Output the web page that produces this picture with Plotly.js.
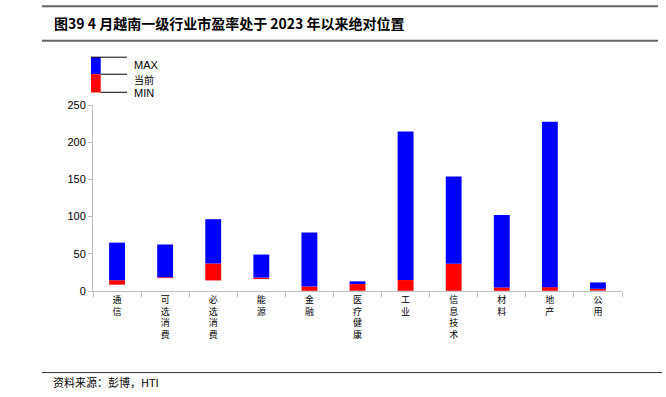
<!DOCTYPE html>
<html><head><meta charset="utf-8">
<script src="https://cdn.plot.ly/plotly-3.0.1.min.js"></script>
<style>html,body{margin:0;padding:0;background:#fff}</style>
</head><body><div id="chart" style="width:666px;height:397px"></div>
<script>
const categories = ['通信','可选消费','必选消费','能源','金融','医疗健康','工业','信息技术','材料','地产','公用'];
const maxValues = [65, 62.5, 96.5, 49, 78.5, 13, 214.5, 154, 102, 227.5, 11.5];
const currentValues = [14.5, 18.5, 37, 18, 6, 9.3, 14.7, 36.6, 4.8, 5.2, 3];
const minValues = [8.5, 17.3, 14.2, 16, 0.3, 0.3, 0.3, 0.3, 0.3, 0.3, 0.5];
const yTickValues = [0, 50, 100, 150, 200, 250];
const titleText = '图39 4 月越南一级行业市盈率处于 2023 年以来绝对位置';
const sourceText = '资料来源：彭博，HTI';
const legendLabels = ['MAX', '当前', 'MIN'];

const W = 666, H = 397, L = 93, R = 622, T = 105, B = 290.6;
const px = x => (x - L) / (R - L);
const py = y => (B - y) / (B - T);

const redTrace = {
  type: 'bar', x: categories,
  base: minValues,
  y: currentValues.map((c, i) => c - minValues[i]),
  width: 0.33, marker: {color: '#ff0000', line: {width: 0}},
  hoverinfo: 'skip', showlegend: false
};
const blueTrace = {
  type: 'bar', x: categories,
  base: currentValues,
  y: maxValues.map((m, i) => m - currentValues[i]),
  width: 0.33, marker: {color: '#0000ff', line: {width: 0}},
  hoverinfo: 'skip', showlegend: false
};

const cjk = '"Noto Sans CJK SC", "Noto Sans", sans-serif';
const latin = '"Liberation Sans", Arial, sans-serif';

const lineShape = (x0, y0, x1, y1, color, w) => ({
  type: 'line', xref: 'paper', yref: 'paper',
  x0: px(x0), y0: py(y0), x1: px(x1), y1: py(y1),
  line: {color: color, width: w}
});

const shapes = [
  lineShape(42, 6.5, 658, 6.5, '#666666', 2),
  lineShape(42, 41, 658, 41, '#666666', 2),
  lineShape(42, 372, 662, 372, '#333333', 1),
  {type: 'rect', xref: 'paper', yref: 'paper', x0: px(91), x1: px(100.7), y0: py(74.3), y1: py(57.3), fillcolor: '#0000ff', line: {width: 0}},
  {type: 'rect', xref: 'paper', yref: 'paper', x0: px(91), x1: px(100.7), y0: py(92.5), y1: py(74.3), fillcolor: '#ff0000', line: {width: 0}},
  lineShape(91, 57.3, 127, 57.3, '#000000', 1),
  lineShape(100.7, 74.3, 127, 74.3, '#000000', 1),
  lineShape(100.7, 92.3, 127, 92.3, '#000000', 1)
];

const ann = (x, y, text, font, xanchor) => ({
  xref: 'paper', yref: 'paper', x: px(x), y: py(y), text: text,
  showarrow: false, xanchor: xanchor || 'left', yanchor: 'middle', font: font
});

const annotations = [
  ann(52, 23, '<b>' + titleText + '</b>', {family: cjk, size: 14, color: '#000'}),
  ann(51, 381, sourceText, {family: cjk, size: 11, color: '#000'}),
  ann(132, 65.5, legendLabels[0], {family: latin, size: 11, color: '#000'}),
  ann(132, 79.5, legendLabels[1], {family: cjk, size: 10, color: '#000'}),
  ann(132, 93.5, legendLabels[2], {family: latin, size: 11, color: '#000'})
];

const layout = {
  width: W, height: H,
  margin: {l: L, r: W - R, t: T, b: H - B, pad: 0},
  paper_bgcolor: '#fff', plot_bgcolor: '#fff',
  barmode: 'overlay',
  showlegend: false,
  xaxis: {
    type: 'category', range: [-0.5, categories.length - 0.5],
    tickmode: 'array', tickvals: categories,
    ticktext: categories.map(c => c.split('').join('<br>')),
    tickson: 'boundaries', ticks: 'outside', ticklen: 5, tickcolor: '#bfbfbf',
    showline: true, linecolor: '#bfbfbf', linewidth: 1,
    showgrid: false, zeroline: false, tickangle: 0,
    tickfont: {family: cjk, size: 9, color: '#000'}
  },
  yaxis: {
    range: [0, 250], tickmode: 'array', tickvals: yTickValues,
    ticks: 'outside', ticklen: 4, tickcolor: '#bfbfbf',
    showline: true, linecolor: '#bfbfbf', linewidth: 1,
    showgrid: false, zeroline: false,
    tickfont: {family: latin, size: 11, color: '#000'}
  },
  shapes: shapes,
  annotations: annotations
};

Plotly.newPlot('chart', [redTrace, blueTrace], layout, {displayModeBar: false, staticPlot: true});
</script></body></html>
